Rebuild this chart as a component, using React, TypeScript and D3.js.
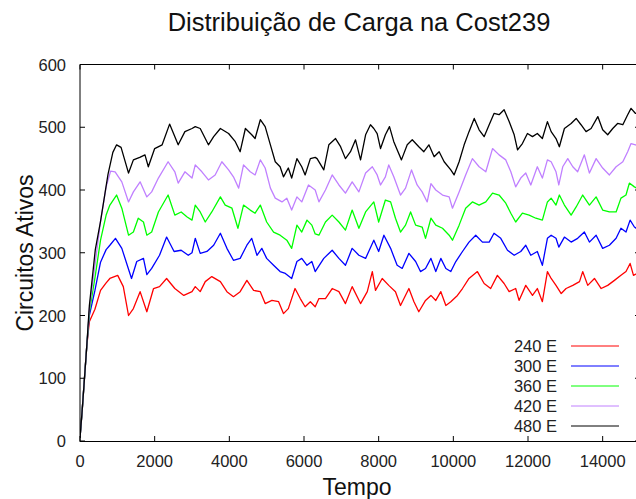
import React from "react";
import * as d3 from "d3";

const TITLE = "Distribuição de Carga na Cost239";
const X_LABEL = "Tempo";
const Y_LABEL = "Circuitos Ativos";
const X_TICKS = [0, 2000, 4000, 6000, 8000, 10000, 12000, 14000];
const Y_TICKS = [0, 100, 200, 300, 400, 500, 600];
const SERIES_NAMES = ["240 E", "300 E", "360 E", "420 E", "480 E"];
const SERIES_COLORS = ["#ff0000", "#0000ff", "#00ff00", "#c080ff", "#000000"];

type P = [number, number];

const s240: P[] = [[0,5],[60,50],[120,100],[180,150],[250,190],[400,210],[550,240],[700,252],[800,259],[1010,264],[1160,246],[1300,200],[1430,211],[1610,238],[1790,206],[1970,243],[2130,246],[2320,259],[2540,243],[2780,232],[3000,238],[3087,246],[3220,238],[3355,254],[3530,262],[3760,254],[3935,238],[4110,230],[4290,238],[4470,256],[4650,240],[4830,238],[4960,219],[5140,224],[5320,222],[5450,203],[5580,211],[5760,243],[5900,227],[6030,214],[6170,222],[6300,214],[6400,227],[6575,227],[6755,243],[6935,238],[7110,219],[7290,246],[7515,219],[7695,238],[7830,270],[7915,240],[8095,259],[8270,248],[8450,238],[8585,216],[8810,243],[8945,222],[9075,206],[9255,224],[9400,232],[9530,224],[9665,238],[9800,216],[9932,222],[10110,232],[10245,243],[10420,259],[10645,270],[10825,251],[11000,243],[11180,264],[11360,251],[11495,238],[11670,243],[11760,224],[11940,248],[12120,232],[12250,243],[12385,222],[12520,270],[12620,259],[12750,248],[12890,235],[13020,243],[13200,248],[13380,254],[13465,270],[13600,248],[13780,259],[13960,243],[14135,248],[14315,256],[14490,264],[14625,270],[14735,283],[14825,264],[15000,270]];

const s300: P[] = [[0,5],[60,50],[120,100],[180,150],[250,200],[400,240],[550,285],[700,305],[800,312],[950,323],[1120,307],[1380,259],[1520,286],[1700,291],[1790,265],[1920,275],[2130,296],[2320,325],[2520,302],[2710,304],[2900,296],[3000,300],[3087,323],[3220,299],[3400,302],[3580,312],[3760,331],[3935,307],[4110,288],[4290,291],[4470,312],[4600,323],[4740,296],[4870,307],[5000,291],[5185,280],[5360,270],[5500,267],[5670,259],[5810,286],[5940,291],[6080,280],[6210,286],[6300,270],[6530,291],[6755,304],[6935,291],[7110,280],[7290,307],[7470,296],[7650,291],[7870,320],[8000,302],[8140,328],[8320,307],[8495,280],[8630,275],[8810,299],[8990,286],[9120,270],[9255,275],[9400,291],[9530,270],[9665,291],[9800,275],[9932,270],[10066,286],[10245,302],[10420,317],[10600,328],[10780,317],[10960,317],[11090,331],[11270,323],[11450,304],[11630,296],[11806,302],[11940,312],[12075,296],[12250,302],[12385,280],[12520,323],[12620,328],[12750,323],[12825,309],[12975,325],[13155,317],[13330,323],[13510,333],[13645,317],[13825,328],[14000,307],[14180,312],[14360,323],[14490,339],[14625,333],[14735,352],[14850,341],[15000,335]];

const s360: P[] = [[0,5],[60,50],[120,100],[180,150],[250,205],[400,260],[550,320],[700,360],[800,376],[980,392],[1120,371],[1300,328],[1430,333],[1560,355],[1700,349],[1790,328],[1920,333],[2100,365],[2360,392],[2540,360],[2710,365],[2870,357],[3000,352],[3087,376],[3220,365],[3355,349],[3530,365],[3760,389],[3890,376],[4070,371],[4230,339],[4380,376],[4560,368],[4690,363],[4830,376],[5000,349],[5185,333],[5360,328],[5540,320],[5670,307],[5810,344],[5940,333],[6080,352],[6210,344],[6300,330],[6400,328],[6575,349],[6755,360],[6935,349],[7110,336],[7290,368],[7470,339],[7650,365],[7870,381],[8000,349],[8180,384],[8320,381],[8450,355],[8585,333],[8720,344],[8855,365],[8990,344],[9165,341],[9255,323],[9400,355],[9530,344],[9710,339],[9888,328],[9977,320],[10155,344],[10330,371],[10510,381],[10690,376],[10870,381],[11050,395],[11225,392],[11405,379],[11540,363],[11670,349],[11850,363],[12030,360],[12210,355],[12385,352],[12520,381],[12620,387],[12750,376],[12840,392],[12975,376],[13155,360],[13290,373],[13465,392],[13645,376],[13825,389],[14000,368],[14180,365],[14360,365],[14490,387],[14625,392],[14715,411],[14850,405],[15000,400]];

const s420: P[] = [[0,5],[60,50],[120,100],[180,150],[250,210],[400,280],[550,350],[700,405],[820,430],[940,429],[1120,413],[1300,381],[1430,397],[1610,413],[1790,389],[1920,397],[2100,419],[2360,445],[2540,429],[2630,411],[2810,429],[3000,419],[3087,440],[3265,429],[3440,416],[3620,424],[3800,445],[3980,432],[4110,421],[4250,403],[4380,440],[4560,429],[4690,424],[4830,448],[4960,435],[5100,403],[5230,387],[5410,381],[5540,387],[5670,368],[5810,389],[5940,381],[6120,408],[6300,400],[6400,381],[6575,400],[6755,424],[6935,408],[7110,395],[7290,413],[7470,397],[7650,427],[7830,437],[7960,424],[8050,408],[8180,421],[8270,440],[8405,421],[8585,392],[8720,403],[8880,432],[9030,408],[9165,397],[9300,381],[9400,410],[9530,400],[9710,392],[9888,389],[9977,371],[10155,397],[10330,424],[10510,450],[10690,437],[10870,429],[11050,466],[11225,456],[11405,448],[11540,429],[11670,405],[11806,419],[11940,427],[12075,408],[12250,437],[12385,419],[12520,448],[12620,445],[12750,429],[12825,408],[12930,437],[13065,450],[13200,437],[13330,429],[13510,456],[13645,427],[13825,450],[14000,435],[14180,424],[14360,437],[14540,445],[14670,461],[14760,474],[14880,472],[15000,470]];

const s480: P[] = [[0,5],[60,50],[120,100],[180,150],[250,215],[410,305],[550,350],[670,395],[750,425],[880,460],[980,472],[1100,468],[1300,427],[1430,448],[1600,452],[1740,456],[1830,437],[2000,466],[2200,472],[2400,505],[2630,472],[2810,493],[3000,498],[3087,501],[3220,498],[3440,472],[3580,485],[3760,498],[3980,490],[4160,477],[4290,461],[4430,498],[4600,488],[4690,482],[4830,512],[4960,501],[5100,472],[5230,445],[5360,437],[5450,421],[5580,435],[5670,419],[5810,450],[5940,437],[6030,424],[6170,450],[6300,452],[6350,450],[6530,432],[6665,472],[6845,482],[6980,469],[7110,450],[7245,461],[7380,480],[7515,448],[7650,488],[7780,504],[7870,498],[7960,490],[8050,466],[8180,488],[8290,501],[8405,477],[8495,464],[8610,448],[8765,472],[8900,480],[9075,469],[9210,461],[9345,472],[9486,453],[9620,461],[9754,445],[9932,432],[10020,424],[10155,445],[10290,472],[10420,493],[10560,514],[10690,496],[10825,485],[10960,504],[11090,522],[11225,520],[11360,528],[11495,509],[11630,488],[11720,464],[11850,474],[11985,490],[12120,485],[12250,490],[12385,482],[12520,509],[12620,493],[12750,482],[12840,469],[12975,498],[13155,506],[13290,514],[13420,504],[13555,493],[13690,498],[13870,517],[14000,496],[14135,488],[14270,498],[14400,506],[14540,504],[14670,520],[14760,530],[14880,522],[15000,525]];

const SERIES_DATA = [s240, s300, s360, s420, s480];

const W = 636;
const H = 499;
const FONT = "'Liberation Sans', Arial, Helvetica, sans-serif";

export default function App() {
  const x = d3.scaleLinear().domain([0, 15000]).range([80, 640]);
  const y = d3.scaleLinear().domain([0, 600]).range([441, 64.5]);
  const line = d3
    .line<P>()
    .x((d) => x(d[0]))
    .y((d) => y(d[1]));
  const left = x(0);
  const right = x(15000);
  const top = y(600);
  const bottom = y(0);
  const tickLen = 5;

  return (
    <svg
      width={W}
      height={H}
      viewBox={`0 0 ${W} ${H}`}
      style={{ position: "absolute", left: 0, top: 0, background: "#fff" }}
      fontFamily={FONT}
    >
      <rect x={0} y={0} width={W} height={H} fill="#fff" />
      <defs>
        <clipPath id="plotclip">
          <rect x={left} y={top} width={right - left} height={bottom - top} />
        </clipPath>
      </defs>

      {/* title */}
      <text x={359} y={31} textAnchor="middle" fontSize={25.5} fill="#111">
        {TITLE}
      </text>

      {/* data */}
      <g clipPath="url(#plotclip)">
        {SERIES_DATA.map((s, i) => (
          <path
            key={SERIES_NAMES[i]}
            d={line(s) || ""}
            fill="none"
            stroke={SERIES_COLORS[i]}
            strokeWidth={1.3}
            strokeLinejoin="round"
          />
        ))}
      </g>

      {/* frame */}
      <line x1={left} x2={right} y1={top} y2={top} stroke="#000" strokeWidth={1} />
      <line x1={left} x2={right} y1={bottom + 0.5} y2={bottom + 0.5} stroke="#000" strokeWidth={1} />
      <line x1={left} x2={left} y1={top} y2={bottom + 1} stroke="#000" strokeWidth={1} />
      <line x1={right - 0.5} x2={right - 0.5} y1={top} y2={bottom + 1} stroke="#000" strokeWidth={1} />

      {/* x ticks */}
      {X_TICKS.map((t) => (
        <g key={"xt" + t}>
          <line x1={x(t)} x2={x(t)} y1={bottom} y2={bottom - tickLen} stroke="#000" />
          <line x1={x(t)} x2={x(t)} y1={top} y2={top + tickLen} stroke="#000" />
          <text x={x(t)} y={467} textAnchor="middle" fontSize={16.5} fill="#222">
            {t}
          </text>
        </g>
      ))}

      {/* y ticks */}
      {Y_TICKS.map((v) => (
        <g key={"yt" + v}>
          <line x1={left} x2={left + tickLen} y1={y(v)} y2={y(v)} stroke="#000" />
          <line x1={right} x2={right - tickLen} y1={y(v)} y2={y(v)} stroke="#000" />
          <text x={66} y={y(v) + 6} textAnchor="end" fontSize={16.5} fill="#222">
            {v}
          </text>
        </g>
      ))}

      {/* axis labels */}
      <text x={357} y={495} textAnchor="middle" fontSize={23} fill="#111">
        {X_LABEL}
      </text>
      <text
        transform={`translate(33, 253) rotate(-90)`}
        textAnchor="middle"
        fontSize={23}
        fill="#111"
      >
        {Y_LABEL}
      </text>

      {/* legend */}
      {SERIES_NAMES.map((name, i) => {
        const ly = 346 + i * 20;
        return (
          <g key={"lg" + name}>
            <text x={557} y={ly + 6} textAnchor="end" fontSize={16.5} fill="#222">
              {name}
            </text>
            <line x1={571} x2={619} y1={ly} y2={ly} stroke={SERIES_COLORS[i]} strokeWidth={1} />
          </g>
        );
      })}
    </svg>
  );
}
